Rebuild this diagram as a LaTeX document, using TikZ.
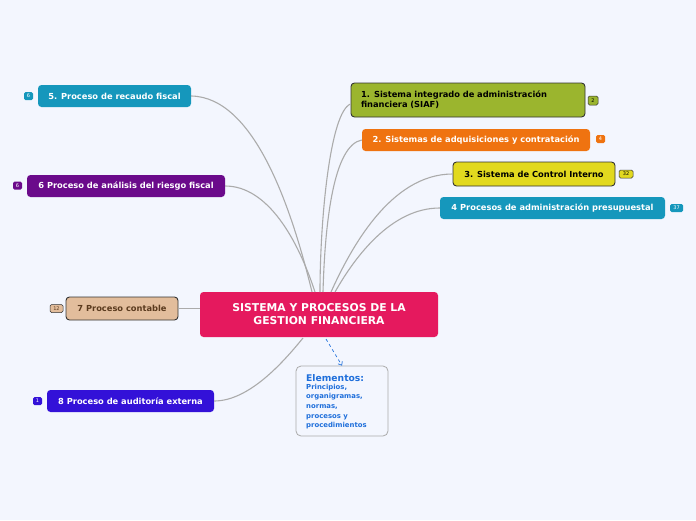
\documentclass[tikz,border=0pt]{standalone}
\usepackage{fontspec}
\setmainfont{DejaVu Sans}
\usetikzlibrary{arrows.meta,calc}
\definecolor{bgc}{HTML}{F3F6FE}
\definecolor{centc}{HTML}{E5195E}
\definecolor{olivec}{HTML}{9BB52E}
\definecolor{orangec}{HTML}{EF7310}
\definecolor{yellowc}{HTML}{E2D91F}
\definecolor{tealc}{HTML}{1597BC}
\definecolor{purplec}{HTML}{6B0A8B}
\definecolor{tanc}{HTML}{E2BD9C}
\definecolor{violetc}{HTML}{3311D8}
\definecolor{linec}{HTML}{ABABAB}
\definecolor{bluetxt}{HTML}{1F6FDB}
\definecolor{darkb}{HTML}{333333}
\definecolor{brownt}{HTML}{5A3A1E}
\tikzset{
  topic/.style={rectangle, rounded corners=3.5pt, inner sep=0pt, font=\fontsize{8.3}{9.5}\selectfont\bfseries, text=white, align=center},
  badge/.style={rectangle, rounded corners=1.5pt, inner sep=0pt, minimum height=8pt, font=\fontsize{5}{5}\selectfont, text=white},
  conn/.style={draw=linec, line width=1.1pt},
}
\begin{document}
\begin{tikzpicture}[x=1pt,y=-1pt]
\fill[bgc] (0,0) rectangle (696,520);
\useasboundingbox (0,0) rectangle (696,520);

% central
\node[topic, fill=centc, minimum width=238pt, minimum height=45pt, font=\fontsize{10.8}{13}\selectfont\bfseries] (c) at (319,314.5) {SISTEMA Y PROCESOS DE LA\\GESTION FINANCIERA};

% right topics
\node[topic, fill=olivec, draw=darkb, line width=0.9pt, text=black, align=left, text width=214pt, inner xsep=10pt, minimum height=34pt, font=\fontsize{8.3}{10}\selectfont\bfseries] (n1) at (468,100) {1. Sistema integrado de administración\\financiera (SIAF)};
\node[topic, fill=orangec, minimum width=228pt, minimum height=22pt] (n2) at (476,140) {2. Sistemas de adquisiciones y contratación};
\node[topic, fill=yellowc, draw=darkb, line width=0.9pt, text=black, minimum width=162pt, minimum height=24pt] (n3) at (534,174) {3. Sistema de Control Interno};
\node[topic, fill=tealc, minimum width=225pt, minimum height=22pt] (n4) at (552.5,208) {4 Procesos de administración presupuestal};

% left topics
\node[topic, fill=tealc, minimum width=153pt, minimum height=22pt] (n5) at (114.5,96) {5. Proceso de recaudo fiscal};
\node[topic, fill=purplec, minimum width=198pt, minimum height=22pt] (n6) at (126,186) {6 Proceso de análisis del riesgo fiscal};
\node[topic, fill=tanc, draw=darkb, line width=0.9pt, text=brownt, minimum width=112pt, minimum height=23pt] (n7) at (122,308.5) {7 Proceso contable};
\node[topic, fill=violetc, minimum width=167pt, minimum height=22pt] (n8) at (130.5,401) {8 Proceso de auditoría externa};

% elements box
\node[rectangle, rounded corners=5pt, draw=linec, line width=0.8pt, fill=bgc, minimum width=92pt, minimum height=70pt] (el) at (342,401) {};
\node[anchor=north west, inner sep=0pt, align=left, text=bluetxt, font=\fontsize{6.9}{9.6}\selectfont\bfseries] (eltxt) at (306,374) {{\fontsize{9.2}{10}\selectfont Elementos:}\\[-1.5pt]Principios,\\organigramas,\\normas,\\procesos y\\procedimientos};

% badges
\node[badge, fill=olivec, draw=darkb, line width=0.5pt, text=black, minimum width=10pt, minimum height=9pt] (b1) at (593,100.5) {2};
\node[badge, fill=orangec, minimum width=9pt] (b2) at (600.5,139) {4};
\node[badge, fill=yellowc, draw=darkb, line width=0.5pt, text=black, minimum width=14pt] (b3) at (626,174) {32};
\node[badge, fill=tealc, minimum width=13pt] (b4) at (676.5,208) {37};
\node[badge, fill=tealc, minimum width=9pt] (b5) at (28.5,96) {6};
\node[badge, fill=purplec, minimum width=9pt] (b6) at (17.5,185.5) {6};
\node[badge, fill=tanc, draw=darkb, line width=0.5pt, text=brownt, minimum width=13pt] (b7) at (56.5,308.5) {12};
\node[badge, fill=violetc, minimum width=9pt] (b8) at (37.5,401) {1};

% anchor points on central top
\coordinate (t5) at (312,292);
\coordinate (t6) at (315,292);
\coordinate (t1) at (320,292);
\coordinate (t2) at (323,292);
\coordinate (t3) at (331,292);
\coordinate (t4) at (335,292);
\coordinate (t8) at (303,338);
\coordinate (td) at (326,339);

% connectors
\draw[conn] (n5.east) .. controls (255,97) and (292,210) .. (t5);
\draw[conn] (n6.east) .. controls (268,186) and (298,240) .. (t6);
\draw[conn] (n1.west) ++(0,4) .. controls (330,112) and (320,220) .. (t1);
\draw[conn] (n2.west) .. controls (334,145) and (325,220) .. (t2);
\draw[conn] (n3.west) .. controls (390,174) and (350,250) .. (t3);
\draw[conn] (n4.west) .. controls (392,208) and (356,255) .. (t4);
\draw[conn] (n7.east) -- (n7.east -| c.west);
\draw[conn] (n8.east) .. controls (250,401) and (285,360) .. (t8);
\draw[bluetxt, line width=0.7pt, dashed, -{Straight Barb[length=3pt,width=5pt]}] (td) -- (el.north);
\end{tikzpicture}
\end{document}
